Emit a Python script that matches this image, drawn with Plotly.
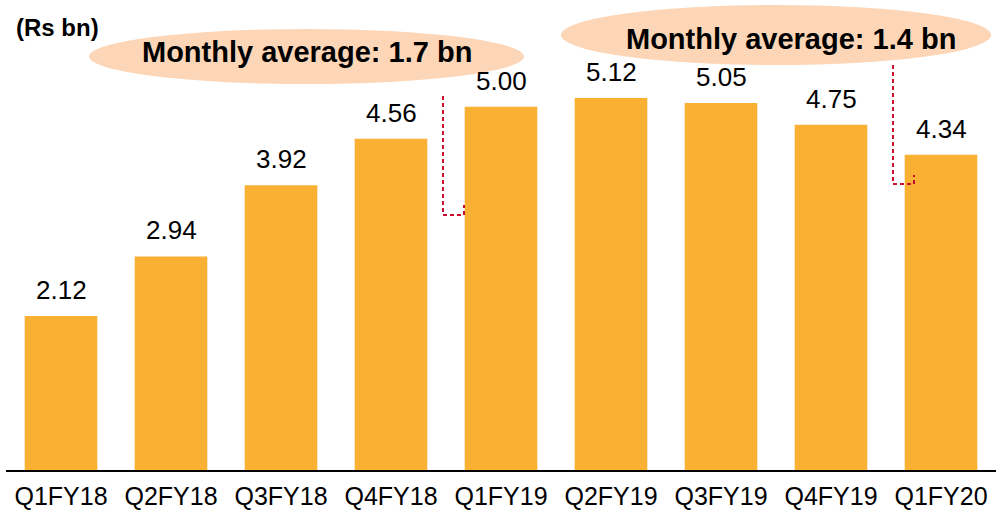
import plotly.graph_objects as go

categories = ["Q1FY18", "Q2FY18", "Q3FY18", "Q4FY18", "Q1FY19", "Q2FY19", "Q3FY19", "Q4FY19", "Q1FY20"]
values = [2.12, 2.94, 3.92, 4.56, 5.00, 5.12, 5.05, 4.75, 4.34]
unit_label = "(Rs bn)"
avg_labels = ["Monthly average: 1.7 bn", "Monthly average: 1.4 bn"]

W, H = 996, 512
L, R, T, B = 6, 0, 0, 42
PW, PH = W - L - R, H - T - B

def px(x):
    return (x - L) / PW

def py(y):
    return (H - B - y) / PH

BAR = "#FAB032"
PEACH = "#FCD6B6"
RED = "#C8102E"
FONT = "Liberation Sans, Arial, sans-serif"

fig = go.Figure()
fig.add_trace(go.Bar(x=categories, y=values, marker_color=BAR, marker_line_width=0,
                     hoverinfo="skip"))

# data labels
for c, v in zip(categories, values):
    fig.add_annotation(x=c, y=v, text=f"{v:.2f}", showarrow=False, yanchor="middle",
                       yshift=26, font=dict(family=FONT, size=26, color="#000000"))

shapes = []
# ellipses
shapes.append(dict(type="circle", xref="paper", yref="paper", x0=px(89), x1=px(524),
                   y0=py(84), y1=py(29), fillcolor=PEACH, line_width=0, layer="below"))
shapes.append(dict(type="circle", xref="paper", yref="paper", x0=px(561), x1=px(991),
                   y0=py(65), y1=py(5), fillcolor=PEACH, line_width=0, layer="below"))
# dashed connectors
for (xv, ytop, ybot, xe, ytick) in [(443, 96, 215, 464, 205), (893, 65, 184, 914, 175)]:
    shapes.append(dict(type="path", xref="paper", yref="paper",
                       path=f"M {px(xv)},{py(ytop)} L {px(xv)},{py(ybot)} L {px(xe)},{py(ybot)} L {px(xe)},{py(ytick)}",
                       line=dict(color=RED, width=2, dash="4px,3px")))

fig.add_annotation(xref="paper", yref="paper", x=px(307), y=py(52), text=f"<b>{avg_labels[0]}</b>",
                   showarrow=False, xanchor="center", yanchor="middle",
                   font=dict(family=FONT, size=29, color="#000000"))
fig.add_annotation(xref="paper", yref="paper", x=px(791), y=py(39), text=f"<b>{avg_labels[1]}</b>",
                   showarrow=False, xanchor="center", yanchor="middle",
                   font=dict(family=FONT, size=29, color="#000000"))
fig.add_annotation(xref="paper", yref="paper", x=px(14), y=py(28), text=f"<b>{unit_label}</b>",
                   showarrow=False, xanchor="left", yanchor="middle",
                   font=dict(family=FONT, size=24, color="#000000"))

fig.update_layout(
    width=W, height=H, margin=dict(l=L, r=R, t=T, b=B, autoexpand=False),
    paper_bgcolor="white", plot_bgcolor="white",
    showlegend=False, bargap=0.34, shapes=shapes,
    xaxis=dict(showline=True, linecolor="#000000", linewidth=2, ticks="",
               ticklabelstandoff=3, automargin=False,
               tickfont=dict(family=FONT, size=25, color="#000000"), showgrid=False,
               zeroline=False, fixedrange=True),
    yaxis=dict(range=[0, PH / 72.66], visible=False, showgrid=False, zeroline=False,
               fixedrange=True),
)

fig.write_html("out.html", config={"displayModeBar": False},
               post_script="document.body.style.margin='0px';document.body.style.overflow='hidden';")
